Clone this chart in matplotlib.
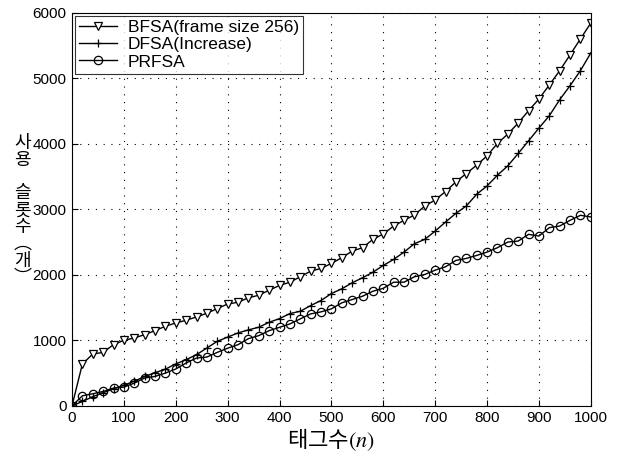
import matplotlib
matplotlib.use("Agg")
import matplotlib.pyplot as plt
import numpy as np

n_tags = list(range(0, 1001, 20))

bfsa = [0, 638, 791, 816, 934, 1000, 1036, 1087, 1148, 1215, 1266, 1306, 1358, 1414, 1485,
        1555, 1582, 1649, 1689, 1766, 1838, 1888, 1971, 2057, 2098, 2175, 2262, 2363, 2415,
        2542, 2625, 2746, 2833, 2914, 3052, 3144, 3273, 3420, 3548, 3675, 3818, 4008, 4150,
        4319, 4507, 4686, 4900, 5119, 5360, 5605, 5845]

dfsa = [0, 66, 140, 200, 260, 315, 375, 449, 505, 560, 640, 705, 781, 883, 985,
        1050, 1113, 1160, 1200, 1276, 1332, 1409, 1444, 1531, 1608, 1715, 1787, 1879, 1956,
        2041, 2144, 2236, 2348, 2476, 2542, 2669, 2807, 2940, 3052, 3231, 3358, 3522, 3665,
        3854, 4047, 4242, 4430, 4675, 4890, 5119, 5390]

prfsa = [0, 153, 184, 219, 271, 286, 347, 424, 449, 500, 562, 654, 730, 745, 816,
         880, 934, 1026, 1072, 1148, 1199, 1251, 1328, 1404, 1435, 1481, 1573, 1623, 1674,
         1750, 1795, 1888, 1888, 1971, 2006, 2072, 2124, 2220, 2251, 2297, 2348, 2415, 2501,
         2516, 2619, 2593, 2721, 2746, 2833, 2910, 2884]

labels = ["BFSA(frame size 256)", "DFSA(Increase)", "PRFSA"]
x_ticks = list(range(0, 1001, 100))
y_ticks = list(range(0, 6001, 1000))

plt.rcParams['font.family'] = ['Liberation Sans', 'DejaVu Sans']
plt.rcParams['mathtext.fontset'] = 'stix'

fig = plt.figure(figsize=(6.18, 4.57), dpi=100)
ax = fig.add_axes([0.1165, 0.112, 0.8395, 0.8596])

kw = dict(color='black', lw=1.0, markersize=6, markeredgewidth=0.9)
ax.plot(n_tags, bfsa, marker='v', mfc='white', label=labels[0], **kw)
ax.plot(n_tags, dfsa, marker='+', label=labels[1], **kw)
ax.plot(n_tags, prfsa, marker='o', mfc='none', label=labels[2], **kw)

ax.set_xlim(0, 1000)
ax.set_ylim(0, 6000)
ax.set_xticks(x_ticks)
ax.set_yticks(y_ticks)
ax.tick_params(direction='in', labelsize=11, length=4, width=0.8, colors='black', pad=4)
ax.grid(True, color='black', linestyle=(0, (1, 6)), linewidth=0.8)
for s in ax.spines.values():
    s.set_linewidth(0.8)
    s.set_color('black')

leg = ax.legend(loc='upper left', fontsize=12.5, frameon=True, fancybox=False,
                edgecolor='black', borderaxespad=0.15, handlelength=2.2,
                labelspacing=0.12, borderpad=0.25, handletextpad=0.6)
leg.get_frame().set_linewidth(0.8)

ax.set_xlabel("태그수$(n)$", fontsize=16, family=['Noto Sans CJK KR', 'DejaVu Sans'], labelpad=1)

ylab = "사\n용\n\n슬\n롯\n수\n︵\n개\n︶"
fig.text(0.036, 0.54, ylab, fontsize=13, family=['Noto Sans CJK KR', 'DejaVu Sans'],
         ha='center', va='center', linespacing=0.92)

fig.savefig("out.png", dpi=100)
